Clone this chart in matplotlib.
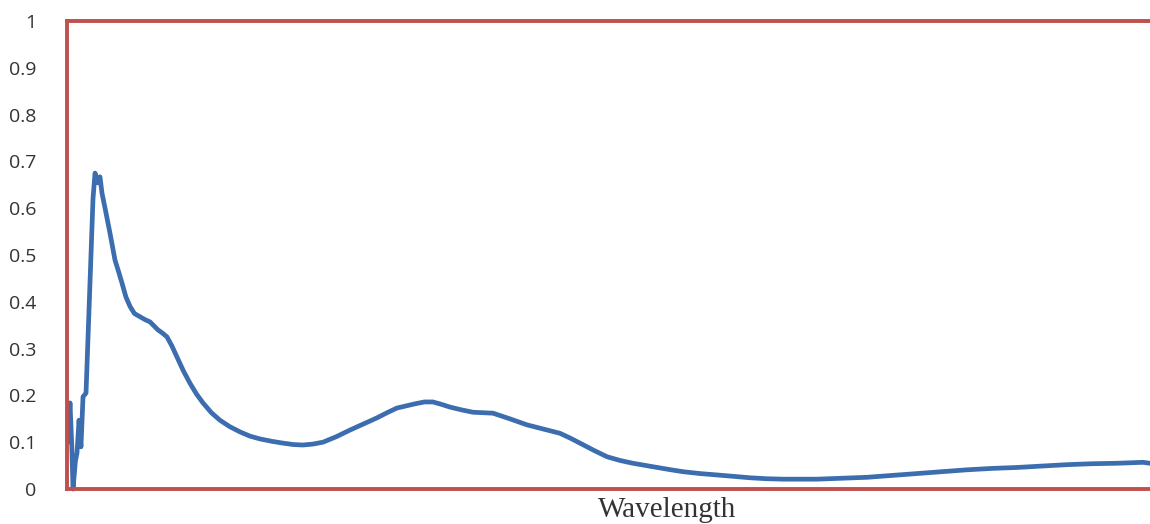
import matplotlib
matplotlib.use("Agg")
import matplotlib.pyplot as plt

# Absorbance spectrum
wavelength = [
    200.8, 202.5, 204.0, 205.0, 207.0, 208.3, 210.0, 211.6, 213.3, 215.8,
    219.1, 221.6, 223.3, 225.8, 227.4, 229.1, 232.4, 235.7, 239.9, 242.8,
    245.7, 249.0, 252.4, 256.0, 260.7, 264.8, 269.0, 275.6, 279.4, 283.1,
    287.3, 291.4, 296.8, 302.2, 307.6, 313.0, 320.0, 327.1, 335.4, 343.8,
    352.0, 360.4, 370.0, 379.5, 388.0, 396.1, 404.4, 412.7, 424.0, 435.2,
    446.4, 457.6, 466.0, 474.2, 489.2, 497.0, 504.1, 511.0, 518.3, 528.0,
    537.4, 545.7, 554.0, 568.0, 582.3, 596.0, 609.7, 618.0, 626.3, 637.5,
    648.7, 659.5, 670.3, 681.5, 692.8, 702.0, 711.9, 726.0, 740.2, 754.0,
    767.6, 781.0, 795.0, 823.3, 844.0, 864.8, 885.6, 906.4, 927.0, 947.9,
    968.7, 989.5, 1010.0, 1031.0, 1051.8, 1072.6, 1094.2, 1100.0,
]
absorbance = [
    0.10, 0.184, 0.09, 0.0, 0.06, 0.077, 0.147, 0.09, 0.197, 0.205,
    0.44, 0.62, 0.675, 0.654, 0.667, 0.632, 0.59, 0.547, 0.489, 0.465,
    0.44, 0.41, 0.39, 0.375, 0.368, 0.362, 0.357, 0.34, 0.333, 0.325,
    0.305, 0.282, 0.252, 0.226, 0.203, 0.184, 0.163, 0.147, 0.133, 0.122,
    0.113, 0.107, 0.102, 0.098, 0.095, 0.094, 0.096, 0.100, 0.112, 0.126,
    0.139, 0.152, 0.163, 0.173, 0.182, 0.186, 0.186, 0.181, 0.175, 0.169,
    0.164, 0.163, 0.162, 0.150, 0.137, 0.128, 0.119, 0.109, 0.098, 0.083,
    0.069, 0.061, 0.055, 0.050, 0.045, 0.041, 0.037, 0.033, 0.030, 0.027,
    0.024, 0.022, 0.021, 0.021, 0.023, 0.025, 0.029, 0.033, 0.037, 0.041,
    0.044, 0.046, 0.049, 0.052, 0.054, 0.055, 0.057, 0.055,
]
y_ticks = [0, 0.1, 0.2, 0.3, 0.4, 0.5, 0.6, 0.7, 0.8, 0.9, 1]
y_labels = ["0", "0.1", "0.2", "0.3", "0.4", "0.5", "0.6", "0.7", "0.8", "0.9", "1"]

frame_red = "#C0504D"
line_blue = "#3C6DAE"

fig = plt.figure(figsize=(11.5, 5.24), dpi=100)
# right edge of the plot area runs past the picture, as in the reference
ax = fig.add_axes([67 / 1150, 35 / 524, 1100 / 1150, 468 / 524])

ax.plot(wavelength, absorbance, color=line_blue, linewidth=3.4,
        solid_joinstyle="round", solid_capstyle="round", clip_on=False)

ax.set_xlim(200, 1100 + 17 * 0.831)
ax.set_ylim(0, 1)
ax.set_xticks([])
ax.set_yticks(y_ticks)
ax.set_yticklabels(y_labels, fontsize=14, family="Open Sans", color="#333333")
ax.tick_params(axis="y", length=0, pad=22)

for side in ["left", "top", "bottom", "right"]:
    ax.spines[side].set_color(frame_red)
    ax.spines[side].set_linewidth(2.8)

fig.text(667 / 1150, 1 - 510 / 524, "Wavelength", ha="center", va="center",
         fontsize=21, family="Liberation Serif", color="#333333")

fig.savefig("out.png", dpi=100)
